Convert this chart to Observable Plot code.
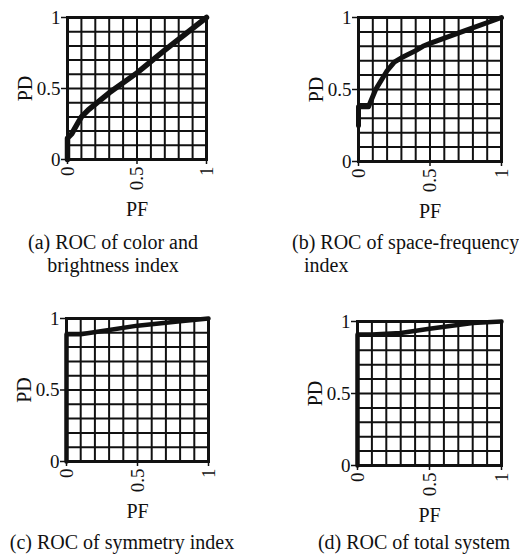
<!DOCTYPE html>
<html>
<head>
<meta charset="utf-8">
<script src="https://cdn.jsdelivr.net/npm/d3@7"></script>
<script src="https://cdn.jsdelivr.net/npm/@observablehq/plot@0.6"></script>
<style>
  html, body { margin: 0; padding: 0; background: #fff; }
  #root { position: relative; width: 519px; height: 555px; overflow: hidden; font-family: "Liberation Serif", "DejaVu Serif", serif; color: #111; }
  .panel { position: absolute; }
  .panel svg { overflow: visible; }
  .cap { position: absolute; font-size: 20px; line-height: 23px; white-space: nowrap; color: #111; }
</style>
</head>
<body>
<div id="root"></div>
<script>
// ---- data ----
const gridTicks = [0, 0.1, 0.2, 0.3, 0.4, 0.5, 0.6, 0.7, 0.8, 0.9, 1];
const axisTicks = [0, 0.5, 1];
const axisTickLabels = ["0", "0.5", "1"];

const pfA = [0, 0, 0.03, 0.07, 0.1, 0.15, 0.3, 0.5, 0.7, 1];
const pdA = [0, 0.15, 0.18, 0.25, 0.3, 0.35, 0.47, 0.61, 0.77, 1];

const pfB = [0, 0, 0.07, 0.12, 0.2, 0.25, 0.3, 0.4, 0.45, 0.5, 0.75, 1];
const pdB = [0.25, 0.38, 0.38, 0.5, 0.63, 0.69, 0.72, 0.77, 0.8, 0.82, 0.91, 1];

const pfC = [0, 0, 0.1, 0.3, 0.5, 0.8, 1];
const pdC = [0, 0.89, 0.89, 0.92, 0.95, 0.98, 1];

const pfD = [0, 0, 0.1, 0.3, 0.5, 0.8, 1];
const pdD = [0, 0.91, 0.91, 0.92, 0.95, 0.99, 1];

const captions = {
  a: ["(a) ROC of color and", "brightness index"],
  b: ["(b) ROC of space-frequency", "index"],
  c: ["(c) ROC of symmetry index"],
  d: ["(d) ROC of total system"]
};

// ---- layout ----
const panels = [
  {key: "a", pf: pfA, pd: pdA, left: 0,   top: 0,   fw: 139, fh: 142, curveW: 5.5},
  {key: "b", pf: pfB, pd: pdB, left: 291, top: 0,   fw: 143, fh: 144, curveW: 5},
  {key: "c", pf: pfC, pd: pdC, left: -1,  top: 301, fw: 142, fh: 143, curveW: 4.5},
  {key: "d", pf: pfD, pd: pdD, left: 290, top: 304, fw: 144, fh: 144, curveW: 4.5}
];
const capPos = {
  a: [{x: 113, y: 231, anchor: "center"}, {x: 113, y: 254, anchor: "center"}],
  b: [{x: 292, y: 231, anchor: "left"}, {x: 304, y: 254, anchor: "left"}],
  c: [{x: 122, y: 531, anchor: "center"}],
  d: [{x: 414, y: 531, anchor: "center"}]
};

const root = document.getElementById("root");
const ML = 67, MT = 17, MR = 10, MB = 75;

for (const p of panels) {
  const data = p.pf.map((x, i) => ({pf: x, pd: p.pd[i]}));
  const chart = Plot.plot({
    width: ML + p.fw + MR,
    height: MT + p.fh + MB,
    marginLeft: ML, marginTop: MT, marginRight: MR, marginBottom: MB,
    style: {fontFamily: "Liberation Serif, serif", fontSize: "19px", color: "#111", background: "transparent"},
    x: {domain: [0, 1]},
    y: {domain: [0, 1]},
    marks: [
      Plot.gridX(gridTicks, {stroke: "#111", strokeOpacity: 1, strokeWidth: 2}),
      Plot.gridY(gridTicks, {stroke: "#111", strokeOpacity: 1, strokeWidth: 2}),
      Plot.frame({stroke: "#111", strokeWidth: 3}),
      Plot.axisY(axisTicks, {
        tickFormat: (d) => axisTickLabels[axisTicks.indexOf(d)],
        tickSize: 6, tickPadding: 1, strokeWidth: 1.5, fontSize: 19,
        label: null
      }),
      Plot.axisY({
        ticks: [], label: "PD", labelAnchor: "center", labelOffset: 50, labelArrow: "none", fontSize: 20, tickSize: 0
      }),
      Plot.axisX(axisTicks, {
        tickFormat: (d) => axisTickLabels[axisTicks.indexOf(d)],
        tickRotate: -90, tickSize: 5, tickPadding: 2, strokeWidth: 1.5, fontSize: 19,
        label: null
      }),
      Plot.axisX({
        ticks: [], label: "PF", labelAnchor: "center", labelOffset: 56, labelArrow: "none", fontSize: 20, tickSize: 0
      }),
      Plot.line(data, {x: "pf", y: "pd", stroke: "#111", strokeWidth: p.curveW, strokeLinejoin: "round", strokeLinecap: "round"})
    ]
  });
  const wrap = document.createElement("div");
  wrap.className = "panel";
  wrap.style.left = p.left + "px";
  wrap.style.top = p.top + "px";
  wrap.appendChild(chart);
  root.appendChild(wrap);

  captions[p.key].forEach((line, i) => {
    const pos = capPos[p.key][i];
    const div = document.createElement("div");
    div.className = "cap";
    div.textContent = line;
    div.style.top = pos.y + "px";
    div.style.left = pos.x + "px";
    if (pos.anchor === "center") div.style.transform = "translateX(-50%)";
    root.appendChild(div);
  });
}
</script>
</body>
</html>
